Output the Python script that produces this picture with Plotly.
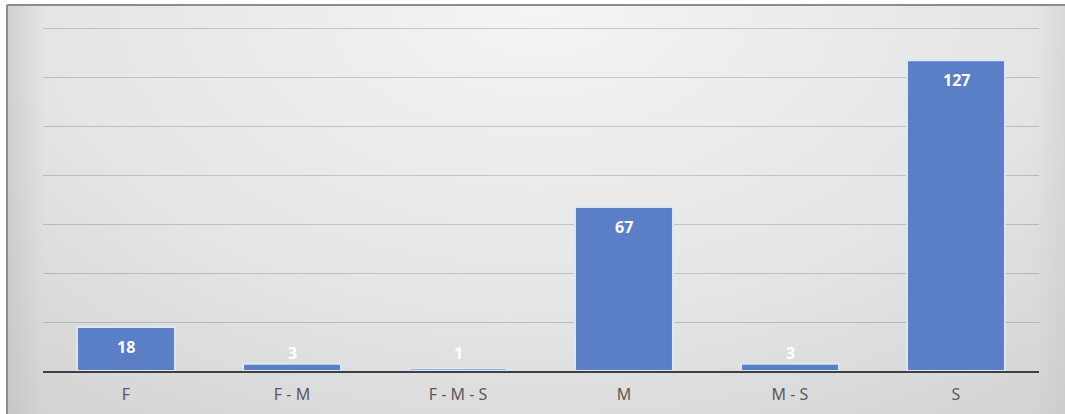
import base64
import plotly.graph_objects as go

# Counts per group
categories = ["F", "F - M", "F - M - S", "M", "M - S", "S"]
counts = [18, 3, 1, 67, 3, 127]
y_ticks = [0, 20, 40, 60, 80, 100, 120, 140]

W, H = 1065, 414
ML, MR, MT, MB = 43, 26, 26, 43
plot_w = W - ML - MR
plot_h = H - MT - MB

BAR_COLOR = "#5A7FC7"
AXIS_TEXT = "#595959"
FONT = "Noto Sans, Open Sans, DejaVu Sans, sans-serif"

# Soft grey gradient panel with a thin frame on the top and left edges
svg = f"""<svg xmlns='http://www.w3.org/2000/svg' width='{W}' height='{H}' viewBox='0 0 {W} {H}' preserveAspectRatio='none'>
<defs>
<radialGradient id='g' cx='0.5' cy='0.0' r='0.8' gradientTransform='translate(0.5 0) scale(1 1.6) translate(-0.5 0)'>
<stop offset='0' stop-color='#F4F4F4'/>
<stop offset='0.55' stop-color='#E6E6E6'/>
<stop offset='1' stop-color='#D2D2D2'/>
</radialGradient>
<linearGradient id='l' x1='0' y1='0' x2='1' y2='0'>
<stop offset='0' stop-color='#B8B8B8' stop-opacity='0.45'/>
<stop offset='0.035' stop-color='#B8B8B8' stop-opacity='0'/>
<stop offset='0.965' stop-color='#B8B8B8' stop-opacity='0'/>
<stop offset='1' stop-color='#B8B8B8' stop-opacity='0.3'/>
</linearGradient>
</defs>
<rect x='0' y='0' width='{W}' height='{H}' fill='#FFFFFF'/>
<rect x='7' y='5' width='{W}' height='{H}' fill='url(#g)'/>
<rect x='7' y='5' width='{W}' height='{H}' fill='url(#l)'/>
<line x1='7' y1='5' x2='{W}' y2='5' stroke='#8C8C8C' stroke-width='2'/>
<line x1='7' y1='5' x2='7' y2='{H}' stroke='#8C8C8C' stroke-width='2'/>
</svg>"""
bg_src = "data:image/svg+xml;base64," + base64.b64encode(svg.encode()).decode()

fig = go.Figure(
    go.Bar(
        x=categories,
        y=counts,
        marker=dict(color=BAR_COLOR, line=dict(color="#DCE6F6", width=2)),
        width=0.59,
        hoverinfo="x+y",
    )
)

# Value labels: just under the bar top, lifted clear of the axis for short bars
y_top = y_ticks[-1] + 1
px_per_unit = plot_h / y_top
for cat, v in zip(categories, counts):
    label_y = max(v - 20 / px_per_unit, 18 / px_per_unit)
    fig.add_annotation(
        x=cat, y=label_y, text=f"<b>{v}</b>", showarrow=False,
        font=dict(family=FONT, size=16, color="#FFFFFF"),
        xanchor="center", yanchor="middle",
    )

fig.add_layout_image(
    source=bg_src, xref="paper", yref="paper",
    x=-ML / plot_w, y=1 + MT / plot_h,
    sizex=W / plot_w, sizey=H / plot_h,
    xanchor="left", yanchor="top", sizing="stretch", layer="below",
)

fig.update_layout(
    width=W, height=H,
    margin=dict(l=ML, r=MR, t=MT, b=MB, pad=0, autoexpand=False),
    paper_bgcolor="#FFFFFF",
    plot_bgcolor="rgba(0,0,0,0)",
    showlegend=False,
    bargap=0.41,
    font=dict(family=FONT, size=16, color=AXIS_TEXT),
    xaxis=dict(
        showgrid=False, zeroline=False, showline=True,
        linecolor="#404040", linewidth=2, ticks="",
        ticklabelstandoff=8, automargin=False,
        tickfont=dict(family=FONT, size=16, color=AXIS_TEXT),
    ),
    yaxis=dict(
        range=[0, y_top], tickvals=y_ticks, showticklabels=False,
        showgrid=True, gridcolor="rgba(0,0,0,0.17)", gridwidth=1.3,
        zeroline=False, showline=False, fixedrange=True, automargin=False,
    ),
)

fig.write_html("out.html")
